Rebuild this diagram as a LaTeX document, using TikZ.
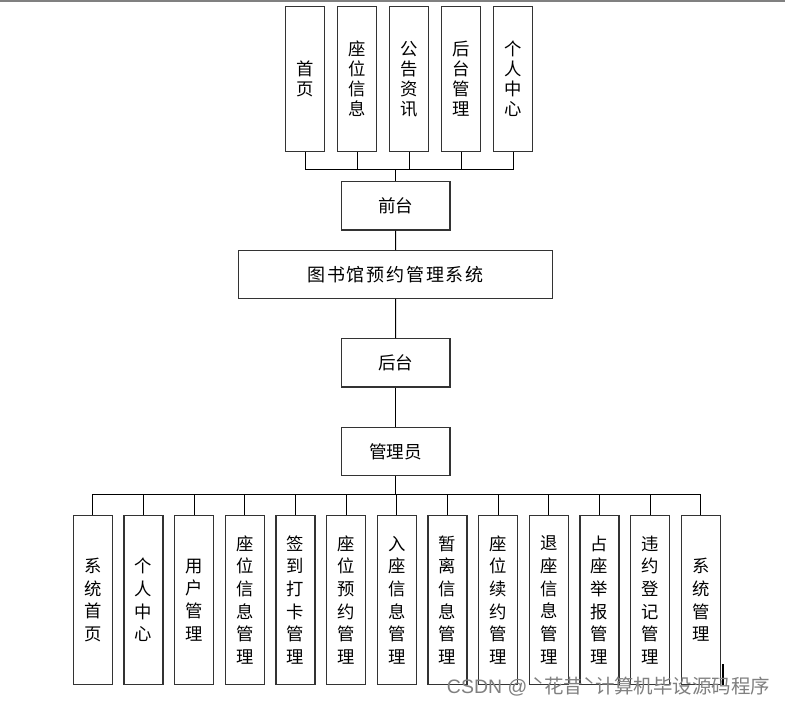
\documentclass[tikz,border=0pt]{standalone}
\usepackage{fontspec}
\setmainfont{Noto Sans CJK SC}
\newfontfamily\wmfont{Liberation Sans}
\begin{document}
\begin{tikzpicture}[x=0.75pt,y=-0.75pt,
  box/.style={draw=black!80, line width=0.85pt, inner sep=0pt, align=center, fill=white},
  vbox/.style={box, minimum width=29pt, minimum height=108.75pt, font=\fontsize{13}{15}\selectfont},
  bbox/.style={box, minimum width=29.25pt, minimum height=126.5pt, font=\fontsize{13}{17}\selectfont},
  hbox/.style={box, minimum width=81.5pt, minimum height=36.2pt, font=\fontsize{13.2}{15}\selectfont},
  tbox/.style={box, minimum width=235.8pt, minimum height=35.7pt, font=\fontsize{13.5}{15}\selectfont\addfontfeature{LetterSpace=10}},
  conn/.style={draw=black, line width=0.75pt}]
\useasboundingbox (0,0) rectangle (785,705);
\fill[white] (0,0) rectangle (785,705);
\draw[gray, line width=1.5pt] (0,1) -- (785,1);
% top row
\node[vbox] (t1) at (305,79.2) {首\\页};
\node[vbox] (t2) at (357,79.2) {座\\位\\信\\息};
\node[vbox] (t3) at (409,79.2) {公\\告\\资\\讯};
\node[vbox] (t4) at (461,79.2) {后\\台\\管\\理};
\node[vbox] (t5) at (513,79.2) {个\\人\\中\\心};
\coordinate (topbus) at (395.7,170);
\foreach \i in {1,...,5} \draw[conn] (t\i.south) |- (topbus);
% middle chain
\node[hbox] (qt) at (395.7,205.9) {前台};
\node[tbox] (sys) at (395.5,274.5) {图书馆预约管理系统};
\node[hbox] (ht) at (395.7,362.9) {后台};
\node[hbox] (gly) at (395.7,451.5) {管理员};
\draw[conn] (topbus) -- (qt.north);
\draw[conn] (qt.south) -- (sys.north);
\draw[conn] (sys.south) -- (ht.north);
\draw[conn] (ht.south) -- (gly.north);
\coordinate (botbus) at (395.7,494);
\draw[conn] (gly.south) -- (botbus);
% bottom row
\foreach \t [count=\i] in {{系\\统\\首\\页},{个\\人\\中\\心},{用\\户\\管\\理},{座\\位\\信\\息\\管\\理},{签\\到\\打\\卡\\管\\理},{座\\位\\预\\约\\管\\理},{入\\座\\信\\息\\管\\理},{暂\\离\\信\\息\\管\\理},{座\\位\\续\\约\\管\\理},{退\\座\\信\\息\\管\\理},{占\\座\\举\\报\\管\\理},{违\\约\\登\\记\\管\\理},{系\\统\\管\\理}}
  \node[bbox] (b\i) at ({92.8+50.67*(\i-1)},600) {\t};
\foreach \i in {1,...,13} \draw[conn] (botbus) -| (b\i.north);
% small mark
\draw[black, line width=1.6pt] (722.7,664) -- (722.7,685);
% watermark
\node[anchor=west, inner sep=0pt, text=black!50, font=\fontsize{14.6}{16}\selectfont] (wm) at (446.7,686.5) {{\wmfont CSDN @ }ˋ花昔ˋ计算机毕设源码程序};
\end{tikzpicture}
\end{document}
